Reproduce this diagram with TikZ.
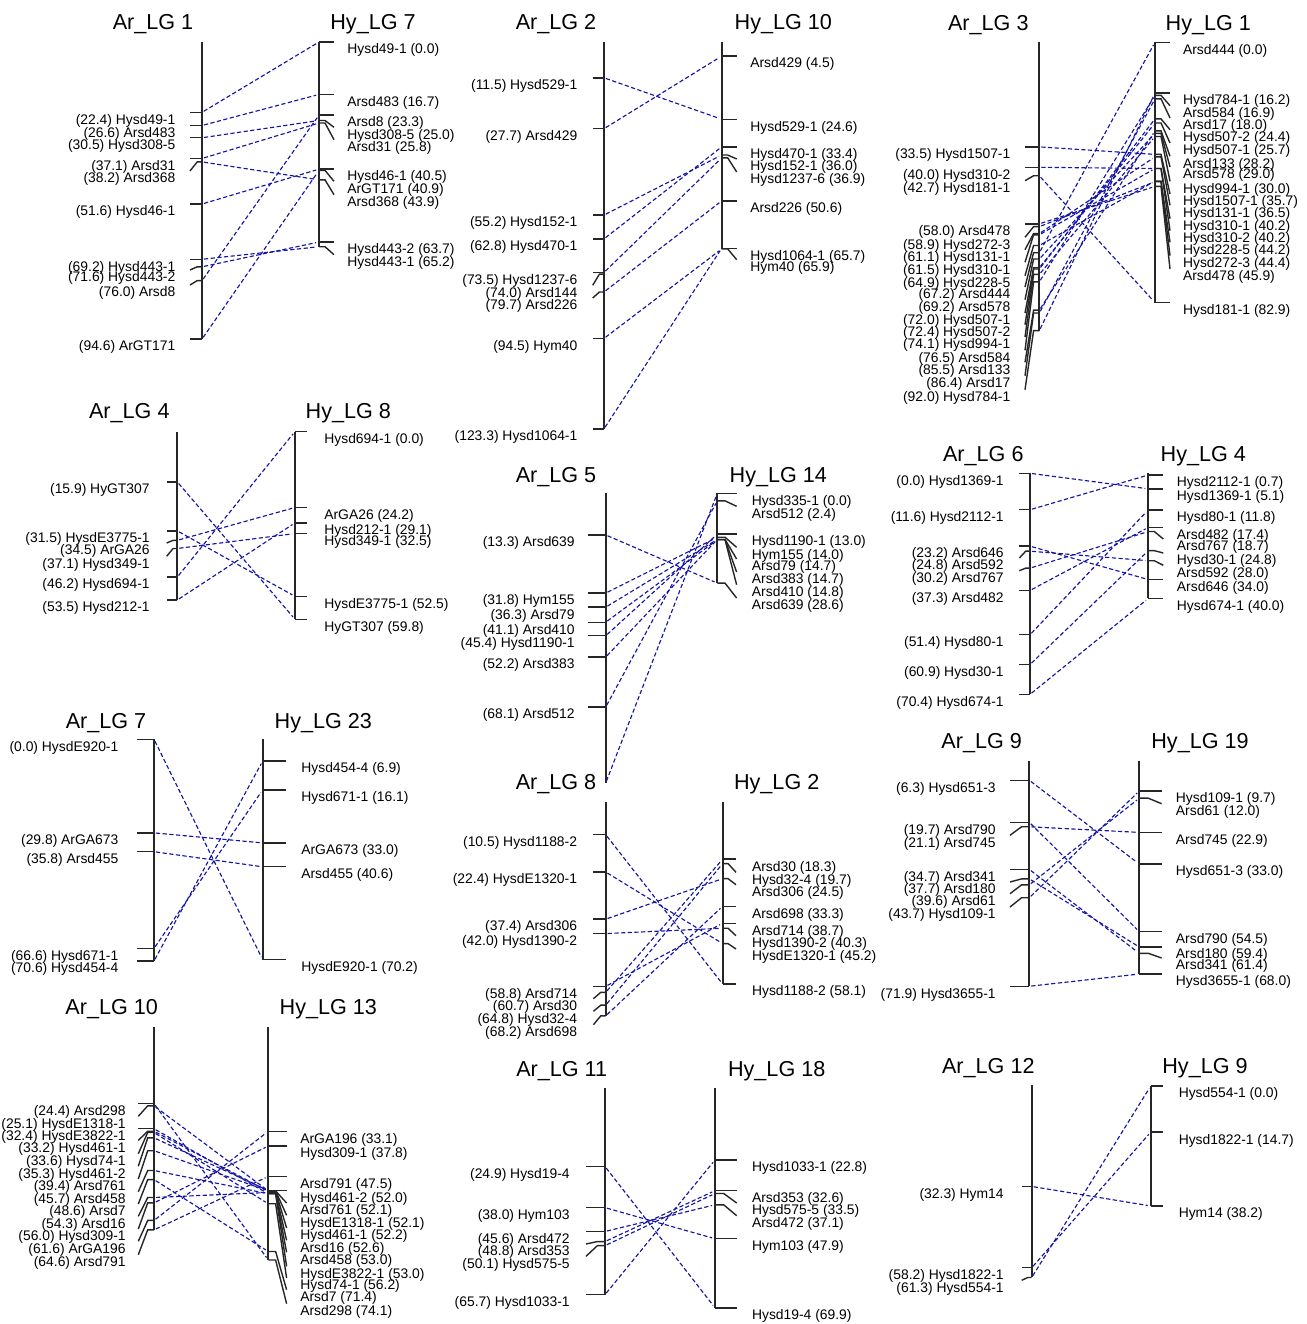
\documentclass[tikz,border=0pt]{standalone}
\usepackage{fontspec}
\setmainfont{Liberation Sans}
\definecolor{linkblue}{RGB}{20,20,165}
\tikzset{
  bar/.style={line width=1pt, draw=black!85},
  tk/.style={line width=0.8pt, draw=black!85},
  lk/.style={draw=linkblue, line width=0.65pt, dash pattern=on 2.4pt off 1.4pt, shorten <=0.04cm, shorten >=0.06cm},
  lab/.style={font=\fontsize{7.9}{9}\selectfont, inner sep=0pt, text height=0.75em, text depth=0.2em},
  ttl/.style={font=\fontsize{12.3}{14}\selectfont, inner sep=0pt, anchor=base},
}
\newcommand\chrom[7]{% side, sign, x, y0, max cM, tick length, label offset
  \def\mSide{#1}\def\mSg{#2}\def\mX{#3}\def\mYo{#4}\def\mTick{#6}\def\mOff{#7}%
  \draw[bar] (#3,#4) -- (#3,{#4+3.14*#5});}
\newcommand\mkr[3]{% name, cM, label y (0 = level)
  \pgfmathsetmacro\mTy{\mYo+3.14*#2}%
  \pgfmathsetmacro\mLy{(#3==0)?(\mTy+7):(#3)}%
  \coordinate (\mPanel\mSide-#1) at (\mX,\mTy);
  \draw[tk] (\mX,\mTy) -- ({\mX+\mSg*0.4*\mTick},\mTy) -- ({\mX+\mSg*\mTick},{\mLy-7});
  \ifnum\mSg<0
    \node[lab,anchor=east] (\mPanel\mSide-#1-lab) at ({\mX-\mOff},\mLy) {(#2) #1};
  \else
    \node[lab,anchor=west] (\mPanel\mSide-#1-lab) at ({\mX+\mOff},\mLy) {#1 (#2)};
  \fi}
\newcommand\lnk[1]{\draw[lk] (\mPanel l-#1) -- (\mPanel r-#1);}
\begin{document}
\begin{tikzpicture}[x=0.02cm,y=-0.02cm]
\useasboundingbox (0,0) rectangle (1307,1324);

% ---------- Panel 1
\def\mPanel{p1}
\node[ttl] (p1-ta) at (153,30) {Ar\_LG 1};
\node[ttl] (p1-tb) at (373,30) {Hy\_LG 7};
\chrom{l}{-1}{202}{42}{94.6}{12}{26.3}
\mkr{Hysd49-1}{22.4}{0}
\mkr{Arsd483}{26.6}{0}
\mkr{Hysd308-5}{30.5}{0}
\mkr{Arsd31}{37.1}{0}
\mkr{Arsd368}{38.2}{178}
\mkr{Hysd46-1}{51.6}{0}
\mkr{Hysd443-1}{69.2}{0}
\mkr{Hysd443-2}{71.6}{277}
\mkr{Arsd8}{76.0}{292}
\mkr{ArGT171}{94.6}{0}
\chrom{r}{1}{319}{42}{65.2}{15}{28}
\mkr{Hysd49-1}{0.0}{0}
\mkr{Arsd483}{16.7}{0}
\mkr{Arsd8}{23.3}{0}
\mkr{Hysd308-5}{25.0}{134.3}
\mkr{Arsd31}{25.8}{146.7}
\mkr{Hysd46-1}{40.5}{0}
\mkr{ArGT171}{40.9}{188.3}
\mkr{Arsd368}{43.9}{201.7}
\mkr{Hysd443-2}{63.7}{0}
\mkr{Hysd443-1}{65.2}{261.7}
\lnk{Hysd49-1}\lnk{Arsd483}\lnk{Hysd308-5}\lnk{Arsd31}\lnk{Arsd368}
\lnk{Hysd46-1}\lnk{Hysd443-1}\lnk{Hysd443-2}\lnk{Arsd8}\lnk{ArGT171}

% ---------- Panel 2
\def\mPanel{p2}
\node[ttl] (p2-ta) at (556,30) {Ar\_LG 2};
\node[ttl] (p2-tb) at (783.3,30) {Hy\_LG 10};
\chrom{l}{-1}{604}{41.7}{123.3}{11.3}{26.3}
\mkr{Hysd529-1}{11.5}{0}
\mkr{Arsd429}{27.7}{0}
\mkr{Hysd152-1}{55.2}{0}
\mkr{Hysd470-1}{62.8}{0}
\mkr{Hysd1237-6}{73.5}{0}
\mkr{Arsd144}{74.0}{292.3}
\mkr{Arsd226}{79.7}{305}
\mkr{Hym40}{94.5}{0}
\mkr{Hysd1064-1}{123.3}{0}
\chrom{r}{1}{721.7}{42}{65.9}{15}{28.3}
\mkr{Arsd429}{4.5}{0}
\mkr{Hysd529-1}{24.6}{0}
\mkr{Hysd470-1}{33.4}{0}
\mkr{Hysd152-1}{36.0}{166}
\mkr{Hysd1237-6}{36.9}{179}
\mkr{Arsd226}{50.6}{0}
\mkr{Hysd1064-1}{65.7}{0}
\mkr{Hym40}{65.9}{266.7}
\lnk{Hysd529-1}\lnk{Arsd429}\lnk{Hysd152-1}\lnk{Hysd470-1}
\lnk{Hysd1237-6}\lnk{Arsd226}\lnk{Hym40}\lnk{Hysd1064-1}

% ---------- Panel 3
\def\mPanel{p3}
\node[ttl] (p3-ta) at (988.3,30.5) {Ar\_LG 3};
\node[ttl] (p3-tb) at (1208.3,30.5) {Hy\_LG 1};
\chrom{l}{-1}{1039.3}{41.7}{92.0}{14.3}{28.6}
\mkr{Hysd1507-1}{33.5}{0}
\mkr{Hysd310-2}{40.0}{0}
\mkr{Hysd181-1}{42.7}{187.7}
\mkr{Arsd478}{58.0}{0}
\mkr{Hysd272-3}{58.9}{244.3}
\mkr{Hysd131-1}{61.1}{256.7}
\mkr{Hysd310-1}{61.5}{269.3}
\mkr{Hysd228-5}{64.9}{282.7}
\mkr{Arsd444}{67.2}{294}
\mkr{Arsd578}{69.2}{306.7}
\mkr{Hysd507-1}{72.0}{320}
\mkr{Hysd507-2}{72.4}{331.7}
\mkr{Hysd994-1}{74.1}{344}
\mkr{Arsd584}{76.5}{357.3}
\mkr{Arsd133}{85.5}{369.3}
\mkr{Arsd17}{86.4}{382.7}
\mkr{Hysd784-1}{92.0}{396.7}
\chrom{r}{1}{1155}{42.3}{82.9}{15}{27.7}
\mkr{Arsd444}{0.0}{0}
\mkr{Hysd784-1}{16.2}{0}
\mkr{Arsd584}{16.9}{112.7}
\mkr{Arsd17}{18.0}{125}
\mkr{Hysd507-2}{24.4}{136.7}
\mkr{Hysd507-1}{25.7}{150}
\mkr{Arsd133}{28.2}{163.3}
\mkr{Arsd578}{29.0}{174}
\mkr{Hysd994-1}{30.0}{188.3}
\mkr{Hysd1507-1}{35.7}{201}
\mkr{Hysd131-1}{36.5}{212.3}
\mkr{Hysd310-1}{40.2}{225.7}
\mkr{Hysd310-2}{40.2}{237.7}
\mkr{Hysd228-5}{44.2}{249.3}
\mkr{Hysd272-3}{44.4}{262.7}
\mkr{Arsd478}{45.9}{276}
\mkr{Hysd181-1}{82.9}{0}
\lnk{Hysd1507-1}\lnk{Hysd310-2}\lnk{Hysd181-1}\lnk{Arsd478}\lnk{Hysd272-3}
\lnk{Hysd131-1}\lnk{Hysd310-1}\lnk{Hysd228-5}\lnk{Arsd444}\lnk{Arsd578}
\lnk{Hysd507-1}\lnk{Hysd507-2}\lnk{Hysd994-1}\lnk{Arsd584}\lnk{Arsd133}
\lnk{Arsd17}\lnk{Hysd784-1}

% ---------- Panel 4
\def\mPanel{p4}
\node[ttl] (p4-ta) at (129.3,418.5) {Ar\_LG 4};
\node[ttl] (p4-tb) at (348.3,418.5) {Hy\_LG 8};
\chrom{l}{-1}{177.3}{432}{53.5}{10.6}{27.3}
\mkr{HyGT307}{15.9}{0}
\mkr{HysdE3775-1}{31.5}{0}
\mkr{ArGA26}{34.5}{550}
\mkr{Hysd349-1}{37.1}{563.3}
\mkr{Hysd694-1}{46.2}{0}
\mkr{Hysd212-1}{53.5}{0}
\chrom{r}{1}{295}{431.5}{59.8}{11.7}{29}
\mkr{Hysd694-1}{0.0}{0}
\mkr{ArGA26}{24.2}{0}
\mkr{Hysd212-1}{29.1}{0}
\mkr{Hysd349-1}{32.5}{0}
\mkr{HysdE3775-1}{52.5}{0}
\mkr{HyGT307}{59.8}{0}
\lnk{HyGT307}\lnk{HysdE3775-1}\lnk{ArGA26}\lnk{Hysd349-1}\lnk{Hysd694-1}\lnk{Hysd212-1}

% ---------- Panel 5
\def\mPanel{p5}
\node[ttl] (p5-ta) at (556,482.5) {Ar\_LG 5};
\node[ttl] (p5-tb) at (778.3,482.5) {Hy\_LG 14};
\chrom{l}{-1}{605.7}{493.2}{92.3}{17.3}{30.7}
\mkr{Arsd639}{13.3}{0}
\mkr{Hym155}{31.8}{0}
\mkr{Arsd79}{36.3}{0}
\mkr{Arsd410}{41.1}{0}
\mkr{Hysd1190-1}{45.4}{0}
\mkr{Arsd383}{52.2}{0}
\mkr{Arsd512}{68.1}{0}
\coordinate (p5l-Hysd335-1) at (605.7,783);
\chrom{r}{1}{717.3}{493.3}{28.6}{19.3}{34.3}
\mkr{Hysd335-1}{0.0}{0}
\mkr{Arsd512}{2.4}{513.3}
\mkr{Hysd1190-1}{13.0}{0}
\mkr{Hym155}{14.0}{554.3}
\mkr{Arsd79}{14.7}{566}
\mkr{Arsd383}{14.7}{579}
\mkr{Arsd410}{14.8}{591.7}
\mkr{Arsd639}{28.6}{605}
\lnk{Arsd639}\lnk{Hym155}\lnk{Arsd79}\lnk{Arsd410}
\lnk{Hysd1190-1}\lnk{Arsd383}\lnk{Arsd512}\lnk{Hysd335-1}

% ---------- Panel 6
\def\mPanel{p6}
\node[ttl] (p6-ta) at (983.3,461) {Ar\_LG 6};
\node[ttl] (p6-tb) at (1203.3,461) {Hy\_LG 4};
\chrom{l}{-1}{1030}{473.3}{70.4}{10.7}{26}
\mkr{Hysd1369-1}{0.0}{0}
\mkr{Hysd2112-1}{11.6}{0}
\mkr{Arsd646}{23.2}{0}
\mkr{Arsd592}{24.8}{565}
\mkr{Arsd767}{30.2}{577.7}
\mkr{Arsd482}{37.3}{0}
\mkr{Hysd80-1}{51.4}{0}
\mkr{Hysd30-1}{60.9}{0}
\mkr{Hysd674-1}{70.4}{0}
\chrom{r}{1}{1148.3}{472.8}{40.0}{15}{28.3}
\mkr{Hysd2112-1}{0.7}{0}
\mkr{Hysd1369-1}{5.1}{0}
\mkr{Hysd80-1}{11.8}{0}
\mkr{Arsd482}{17.4}{0}
\mkr{Arsd767}{18.7}{546}
\mkr{Hysd30-1}{24.8}{560}
\mkr{Arsd592}{28.0}{572.3}
\mkr{Arsd646}{34.0}{0}
\mkr{Hysd674-1}{40.0}{0}
\lnk{Hysd1369-1}\lnk{Hysd2112-1}\lnk{Arsd646}\lnk{Arsd592}\lnk{Arsd767}
\lnk{Arsd482}\lnk{Hysd80-1}\lnk{Hysd30-1}\lnk{Hysd674-1}

% ---------- Panel 7
\def\mPanel{p7}
\node[ttl] (p7-ta) at (106,728) {Ar\_LG 7};
\node[ttl] (p7-tb) at (323.3,728) {Hy\_LG 23};
\chrom{l}{-1}{154}{739.3}{70.6}{17.3}{35.3}
\mkr{HysdE920-1}{0.0}{0}
\mkr{ArGA673}{29.8}{0}
\mkr{Arsd455}{35.8}{0}
\mkr{Hysd671-1}{66.6}{0}
\mkr{Hysd454-4}{70.6}{0}
\chrom{r}{1}{262.7}{739.3}{70.2}{23.3}{38.3}
\mkr{Hysd454-4}{6.9}{0}
\mkr{Hysd671-1}{16.1}{0}
\mkr{ArGA673}{33.0}{0}
\mkr{Arsd455}{40.6}{0}
\mkr{HysdE920-1}{70.2}{0}
\lnk{HysdE920-1}\lnk{ArGA673}\lnk{Arsd455}\lnk{Hysd671-1}\lnk{Hysd454-4}

% ---------- Panel 8
\def\mPanel{p8}
\node[ttl] (p8-ta) at (556,789) {Ar\_LG 8};
\node[ttl] (p8-tb) at (776.7,789) {Hy\_LG 2};
\chrom{l}{-1}{605.7}{801.7}{68.2}{12.3}{28.3}
\mkr{Hysd1188-2}{10.5}{0}
\mkr{HysdE1320-1}{22.4}{0}
\mkr{Arsd306}{37.4}{0}
\mkr{Hysd1390-2}{42.0}{0}
\mkr{Arsd714}{58.8}{0}
\mkr{Arsd30}{60.7}{1005.7}
\mkr{Hysd32-4}{64.8}{1018.3}
\mkr{Arsd698}{68.2}{1031.7}
\chrom{r}{1}{722.7}{801.7}{58.1}{13.3}{29}
\mkr{Arsd30}{18.3}{0}
\mkr{Hysd32-4}{19.7}{879.3}
\mkr{Arsd306}{24.5}{891.7}
\mkr{Arsd698}{33.3}{0}
\mkr{Arsd714}{38.7}{0}
\mkr{Hysd1390-2}{40.3}{942.7}
\mkr{HysdE1320-1}{45.2}{956}
\mkr{Hysd1188-2}{58.1}{0}
\lnk{Hysd1188-2}\lnk{HysdE1320-1}\lnk{Arsd306}\lnk{Hysd1390-2}
\lnk{Arsd714}\lnk{Arsd30}\lnk{Hysd32-4}\lnk{Arsd698}

% ---------- Panel 9
\def\mPanel{p9}
\node[ttl] (p9-ta) at (981.7,748.5) {Ar\_LG 9};
\node[ttl] (p9-tb) at (1200,748.5) {Hy\_LG 19};
\chrom{l}{-1}{1029.3}{760.5}{71.9}{19.3}{33.3}
\mkr{Hysd651-3}{6.3}{0}
\mkr{Arsd790}{19.7}{0}
\mkr{Arsd745}{21.1}{842.3}
\mkr{Arsd341}{34.7}{0}
\mkr{Arsd180}{37.7}{889}
\mkr{Arsd61}{39.6}{900.7}
\mkr{Hysd109-1}{43.7}{914}
\mkr{Hysd3655-1}{71.9}{0}
\chrom{r}{1}{1139.3}{760.5}{68.0}{22.3}{36.3}
\mkr{Hysd109-1}{9.7}{0}
\mkr{Arsd61}{12.0}{810.7}
\mkr{Arsd745}{22.9}{0}
\mkr{Hysd651-3}{33.0}{0}
\mkr{Arsd790}{54.5}{0}
\mkr{Arsd180}{59.4}{0}
\mkr{Arsd341}{61.4}{965}
\mkr{Hysd3655-1}{68.0}{0}
\lnk{Hysd651-3}\lnk{Arsd790}\lnk{Arsd745}\lnk{Arsd341}
\lnk{Arsd180}\lnk{Arsd61}\lnk{Hysd109-1}\lnk{Hysd3655-1}

% ---------- Panel 10
\def\mPanel{p10}
\node[ttl] (p10-ta) at (111.7,1014) {Ar\_LG 10};
\node[ttl] (p10-tb) at (328.3,1014) {Hy\_LG 13};
\chrom{l}{-1}{154}{1027}{64.6}{15.7}{28}
\mkr{Arsd298}{24.4}{0}
\mkr{HysdE1318-1}{25.1}{1123.3}
\mkr{HysdE3822-1}{32.4}{0}
\mkr{Hysd461-1}{33.2}{1147.3}
\mkr{Hysd74-1}{33.6}{1160.7}
\mkr{Hysd461-2}{35.3}{1173.3}
\mkr{Arsd761}{39.4}{1186}
\mkr{Arsd458}{45.7}{1198.7}
\mkr{Arsd7}{48.6}{1211}
\mkr{Arsd16}{54.3}{1223.3}
\mkr{Hysd309-1}{56.0}{1236}
\mkr{ArGA196}{61.6}{1248.3}
\mkr{Arsd791}{64.6}{1261.7}
\chrom{r}{1}{268.3}{1027.3}{74.1}{18.3}{31.7}
\mkr{ArGA196}{33.1}{0}
\mkr{Hysd309-1}{37.8}{0}
\mkr{Arsd791}{47.5}{0}
\mkr{Hysd461-2}{52.0}{0}
\mkr{Arsd761}{52.1}{1210}
\mkr{HysdE1318-1}{52.1}{1222.3}
\mkr{Hysd461-1}{52.2}{1235}
\mkr{Arsd16}{52.6}{1247.3}
\mkr{Arsd458}{53.0}{1259.3}
\mkr{HysdE3822-1}{53.0}{1273.3}
\mkr{Hysd74-1}{56.2}{1285}
\mkr{Arsd7}{71.4}{1296.7}
\mkr{Arsd298}{74.1}{1310.7}
\lnk{Arsd298}\lnk{HysdE1318-1}\lnk{HysdE3822-1}\lnk{Hysd461-1}\lnk{Hysd74-1}
\lnk{Hysd461-2}\lnk{Arsd761}\lnk{Arsd458}\lnk{Arsd7}\lnk{Arsd16}
\lnk{Hysd309-1}\lnk{ArGA196}\lnk{Arsd791}

% ---------- Panel 11
\def\mPanel{p11}
\node[ttl] (p11-ta) at (561.7,1076) {Ar\_LG 11};
\node[ttl] (p11-tb) at (776.7,1076) {Hy\_LG 18};
\chrom{l}{-1}{605}{1088.3}{65.7}{19}{35}
\mkr{Hysd19-4}{24.9}{0}
\mkr{Hym103}{38.0}{0}
\mkr{Arsd472}{45.6}{0}
\mkr{Arsd353}{48.8}{1251}
\mkr{Hysd575-5}{50.1}{1263.3}
\mkr{Hysd1033-1}{65.7}{0}
\chrom{r}{1}{715}{1088.3}{69.9}{21.7}{36.7}
\mkr{Hysd1033-1}{22.8}{0}
\mkr{Arsd353}{32.6}{0}
\mkr{Hysd575-5}{33.5}{1210}
\mkr{Arsd472}{37.1}{1222.7}
\mkr{Hym103}{47.9}{0}
\mkr{Hysd19-4}{69.9}{0}
\lnk{Hysd19-4}\lnk{Hym103}\lnk{Arsd472}\lnk{Arsd353}\lnk{Hysd575-5}\lnk{Hysd1033-1}

% ---------- Panel 12
\def\mPanel{p12}
\node[ttl] (p12-ta) at (988.3,1073.5) {Ar\_LG 12};
\node[ttl] (p12-tb) at (1205,1073.5) {Hy\_LG 9};
\chrom{l}{-1}{1031.7}{1085}{61.3}{10}{27.7}
\mkr{Hym14}{32.3}{0}
\mkr{Hysd1822-1}{58.2}{0}
\mkr{Hysd554-1}{61.3}{1287.3}
\chrom{r}{1}{1150.7}{1086}{38.2}{12.7}{27.7}
\mkr{Hysd554-1}{0.0}{0}
\mkr{Hysd1822-1}{14.7}{0}
\mkr{Hym14}{38.2}{0}
\lnk{Hym14}\lnk{Hysd1822-1}\lnk{Hysd554-1}
\end{tikzpicture}
\end{document}
